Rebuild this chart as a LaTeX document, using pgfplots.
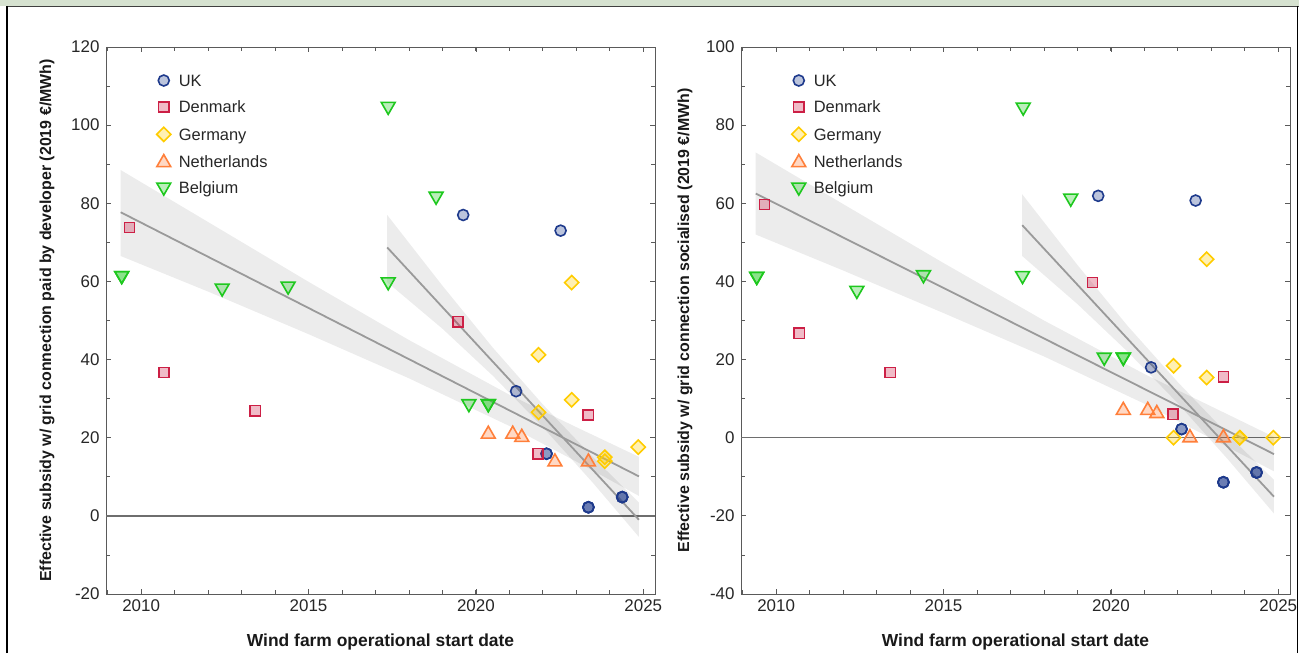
\documentclass[border=0pt]{standalone}
\usepackage{fontspec}
\setmainfont{Liberation Sans}
\usepackage{pgfplots}
\pgfplotsset{compat=1.18}
\definecolor{ukc}{HTML}{1E3A8C}
\definecolor{dkc}{HTML}{CC1F45}
\definecolor{dec}{HTML}{FFCC00}
\definecolor{nlc}{HTML}{FF7F3A}
\definecolor{bec}{HTML}{1EC81E}
\definecolor{linec}{HTML}{9A9A9A}
\definecolor{axc}{HTML}{5A5A5A}
\definecolor{zc}{HTML}{6E6E6E}
\definecolor{stripc}{HTML}{D6E2D0}
\tikzset{
  ukm/.style={mark=*, mark size=5.5bp, mark options={draw=ukc, fill=ukc, fill opacity=0.3, line width=1.6bp}},
  dkm/.style={mark=square*, mark size=5.1bp, mark options={draw=dkc, fill=dkc, fill opacity=0.3, line width=1.6bp}},
  dem/.style={mark=square*, mark size=5bp, mark options={draw=dec, fill=dec, fill opacity=0.3, line width=1.6bp, rotate=45}},
  nlm/.style={mark=triangle*, mark size=8bp, mark options={draw=nlc, fill=nlc, fill opacity=0.3, line width=1.6bp}},
  bem/.style={mark=triangle*, mark size=8bp, mark options={draw=bec, fill=bec, fill opacity=0.3, line width=1.6bp, rotate=180}},
}
\pgfplotsset{
  base/.style={
    scale only axis, width=549bp, height=547bp,
    xmin=2008.95, xmax=2025.35,
    xtick={2010,2015,2020,2025}, minor xtick={2009,...,2025},
    minor y tick num=1,
    tick align=inside, tick pos=both,
    axis line style={axc, line width=0.9bp},
    every tick/.style={axc, line width=0.8bp},
    major tick length=5bp, minor tick length=4bp,
    tick label style={font=\fontsize{17}{17}\selectfont, text=black!85},
    xticklabel style={yshift=-2bp},
    yticklabel style={xshift=-3bp},
    /pgf/number format/assume math mode=true,
    /pgf/number format/1000 sep={},
    label style={font=\bfseries\fontsize{16}{16}\selectfont, text=black!90},
    xlabel={Wind farm operational start date},
    xlabel style={at={(axis description cs:0.5,-0.088)}, anchor=center, font=\bfseries\fontsize{17.5}{17.5}\selectfont},
    legend style={at={(rel axis cs:0.092,0.9505)}, anchor=north west, draw=none, fill=none,
      inner sep=0pt, font=\fontsize{16.5}{16.5}\selectfont, text=black!85,
      nodes={inner sep=0pt, text height=12bp, text depth=4.5bp},
      row sep=10bp, /tikz/every odd column/.append style={column sep=8bp}},
    legend cell align=left,
  },
  uk/.style={only marks, ukm, legend image code/.code={\draw[only marks, ukm] plot coordinates {(0bp,2bp)};}},
  dk/.style={only marks, dkm, legend image code/.code={\draw[only marks, dkm] plot coordinates {(0bp,2bp)};}},
  de/.style={only marks, dem, legend image code/.code={\draw[only marks, dem] plot coordinates {(0bp,2bp)};}},
  nl/.style={only marks, nlm, legend image code/.code={\draw[only marks, nlm] plot coordinates {(0bp,1bp)};}},
  be/.style={only marks, bem, legend image code/.code={\draw[only marks, bem] plot coordinates {(0bp,3bp)};}},
  band/.style={fill=black, fill opacity=0.075, draw=none, forget plot},
  reg/.style={linec, line width=1.8bp, forget plot, no marks},
  zero/.style={zc, line width=1.4bp, forget plot, no marks},
}
\begin{document}
\begin{tikzpicture}[x=1bp,y=1bp]
\useasboundingbox (0,0) rectangle (1299,653);
% ---------------- left panel ----------------
\begin{axis}[base, at={(106bp,59bp)}, anchor=south west,
  ymin=-20, ymax=120, ytick={-20,0,20,40,60,80,100,120},
  ylabel={Effective subsidy w/ grid connection paid by developer (2019 €/MWh)},
  ylabel style={at={(axis description cs:-0.1075,0.5)}, anchor=center}]
\addplot[zero] coordinates {(2008.95,0) (2025.35,0)};
\addplot[band] coordinates {(2009.39,88.5) (2012,75.2) (2015,59.9) (2018,45.0) (2021,31.0) (2023,22.7) (2024.87,15.1)
  (2024.87,5.1) (2023,13.9) (2021,23.0) (2018,35.2) (2015,46.5) (2012,57.4) (2009.39,66.5)};
\addplot[band] coordinates {(2017.35,77.0) (2019,58.9) (2020.5,43.1) (2022,28.5) (2023.5,15.0) (2024.87,3.4)
  (2024.87,-5.4) (2023.5,8.4) (2022,22.7) (2020.5,35.9) (2019,47.9) (2017.35,59.8)};
\addplot[reg] coordinates {(2009.39,77.7) (2024.87,10.1)};
\addplot[reg] coordinates {(2017.35,68.7) (2024.87,-1.0)};
\addplot[uk] coordinates {(2019.62,77.0) (2022.53,73.0) (2021.20,31.9) (2022.11,15.9) (2022.11,15.9)
  (2023.36,2.2) (2023.36,2.2) (2023.36,2.2) (2024.37,4.8) (2024.37,4.8) (2024.37,4.8)};
\addlegendentry{UK}
\addplot[dk] coordinates {(2009.65,73.8) (2010.68,36.7) (2013.41,26.9) (2019.46,49.7) (2021.86,15.9) (2023.36,25.8)};
\addlegendentry{Denmark}
\addplot[de] coordinates {(2022.86,59.7) (2021.87,41.2) (2022.86,29.7) (2021.87,26.5) (2023.85,14.0) (2023.85,15.0) (2024.85,17.6)};
\addlegendentry{Germany}
\addplot[nl] coordinates {(2020.37,20.9) (2021.10,20.9) (2021.37,20.1) (2022.36,13.8) (2023.36,13.8)};
\addlegendentry{Netherlands}
\addplot[be] coordinates {(2009.42,61.5) (2009.42,61.5) (2012.42,58.3) (2014.39,58.8) (2017.38,104.8) (2017.38,59.9)
  (2018.81,81.8) (2019.79,28.7) (2020.37,28.7) (2020.37,28.7)};
\addlegendentry{Belgium}
\end{axis}
% ---------------- right panel ----------------
\begin{axis}[base, at={(741bp,59bp)}, anchor=south west,
  ymin=-40, ymax=100, ytick={-40,-20,0,20,40,60,80,100},
  ylabel={Effective subsidy w/ grid connection socialised (2019 €/MWh)},
  ylabel style={at={(axis description cs:-0.102,0.5)}, anchor=center}]
\addplot[zero] coordinates {(2008.95,0) (2025.35,0)};
\addplot[band] coordinates {(2009.39,73.0) (2012,59.8) (2015,44.7) (2018,30.0) (2021,16.3) (2023,8.0) (2024.87,0.2)
  (2024.87,-8.6) (2023,-0.2) (2021,8.7) (2018,20.8) (2015,31.9) (2012,42.8) (2009.39,52.0)};
\addplot[band] coordinates {(2017.35,62.3) (2019,44.2) (2020.5,28.6) (2022,14.2) (2023.5,0.8) (2024.87,-10.8)
  (2024.87,-19.4) (2023.5,-5.6) (2022,8.8) (2020.5,22.0) (2019,34.2) (2017.35,46.5)};
\addplot[reg] coordinates {(2009.39,62.5) (2024.87,-4.2)};
\addplot[reg] coordinates {(2017.35,54.4) (2024.87,-15.1)};
\addplot[uk] coordinates {(2019.62,61.9) (2022.53,60.7) (2021.20,18.0) (2022.11,2.2) (2022.11,2.2)
  (2023.36,-11.4) (2023.36,-11.4) (2023.36,-11.4) (2024.35,-8.9) (2024.35,-8.9) (2024.35,-8.9)};
\addlegendentry{UK}
\addplot[dk] coordinates {(2009.65,59.7) (2010.69,26.7) (2013.41,16.7) (2019.45,39.7) (2021.85,6.0) (2023.36,15.6)};
\addlegendentry{Denmark}
\addplot[de] coordinates {(2022.86,45.7) (2021.87,18.4) (2022.86,15.4) (2021.87,0) (2023.85,0) (2023.85,0) (2024.85,0)};
\addlegendentry{Germany}
\addplot[nl] coordinates {(2020.37,7.0) (2021.10,7.0) (2021.37,6.2) (2022.36,0) (2023.36,0)};
\addlegendentry{Netherlands}
\addplot[be] coordinates {(2009.42,41.3) (2009.42,41.3) (2012.41,37.7) (2014.40,41.7) (2017.38,84.6) (2017.36,41.5)
  (2018.80,61.3) (2019.80,20.6) (2020.37,20.6) (2020.37,20.6)};
\addlegendentry{Belgium}
\end{axis}
% ---------------- frame ----------------
\fill[stripc] (0,646.5) rectangle (1299,653);
\draw[black!75, line width=1bp] (6,646.5) -- (1299,646.5);
\draw[black, line width=1.6bp] (7,0) -- (7,646.5);
\draw[black, line width=1.6bp] (1297.5,0) -- (1297.5,646.5);
\end{tikzpicture}
\end{document}
